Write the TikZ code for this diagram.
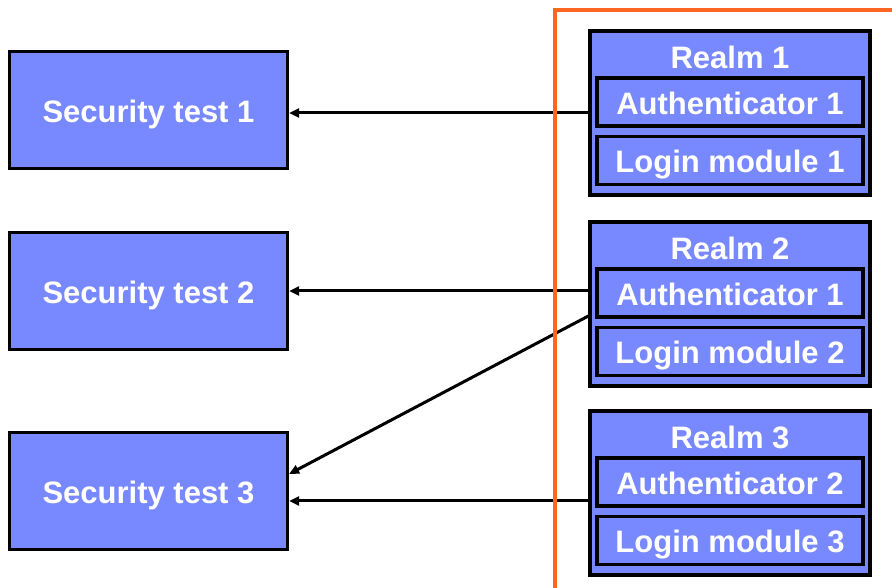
\documentclass[tikz,border=0pt]{standalone}
\usepackage{fontspec}
\setmainfont{Liberation Sans}
\usetikzlibrary{positioning, arrows.meta}
\definecolor{boxblue}{RGB}{120,137,255}
\definecolor{frameorange}{RGB}{255,102,34}
\tikzset{
x=1pt, y=1pt, % work in points
>={Triangle[length=10pt,width=9pt]}, % small filled arrow heads
every node/.style={font=\fontsize{31}{36}\selectfont\bfseries, text=white, text height=25pt, text depth=0pt}, % white bold text, caps centred
test/.style={draw, line width=3.2pt, fill=boxblue, minimum width=278, minimum height=117, inner sep=0pt}, % security test boxes
realm/.style={draw, line width=3.2pt, fill=boxblue, minimum width=280, minimum height=164, inner sep=0pt}, % realm containers
part/.style={draw, line width=3.2pt, fill=boxblue, minimum width=266, minimum height=48, inner sep=0pt}, % authenticator / login module
link/.style={->, line width=3pt}, % connectors
}
\begin{document}
\begin{tikzpicture}
\useasboundingbox (0,0) rectangle (892,588);

% security tests on the left
\node[test] (test1) at (148.5,478) {Security test 1};
\node[test] (test2) at (148.5,297) {Security test 2};
\node[test] (test3) at (148.5,97) {Security test 3};

% realms on the right
\node[realm] (realm1) at (730,475) {};
\node at ([yshift=-26.5pt]realm1.north) (name1) {Realm 1};
\node[part, below=47pt of realm1.north] (auth1) {Authenticator 1};
\node[part, below=7pt of auth1] (login1) {Login module 1};

\node[realm] (realm2) at (730,284) {};
\node at ([yshift=-26.5pt]realm2.north) (name2) {Realm 2};
\node[part, below=47pt of realm2.north] (auth2) {Authenticator 1};
\node[part, below=7pt of auth2] (login2) {Login module 2};

\node[realm] (realm3) at (730,95) {};
\node at ([yshift=-26.5pt]realm3.north) (name3) {Realm 3};
\node[part, below=47pt of realm3.north] (auth3) {Authenticator 2};
\node[part, below=7pt of auth3] (login3) {Login module 3};

% connectors
\draw[link] (realm1.west) -- (realm1.west -| test1.east);
\draw[link] (test2.east -| realm2.west) -- (test2.east);
\draw[link] ([yshift=-12pt]realm2.west) -- ([yshift=17pt]test3.east);
\draw[link] ([yshift=-8pt]realm3.west) -- ([yshift=-8pt]realm3.west -| test3.east);

% frame round the realms
\draw[frameorange, line width=4pt] (555,0) -- (555,578) -- (892,578);
\end{tikzpicture}
\end{document}
